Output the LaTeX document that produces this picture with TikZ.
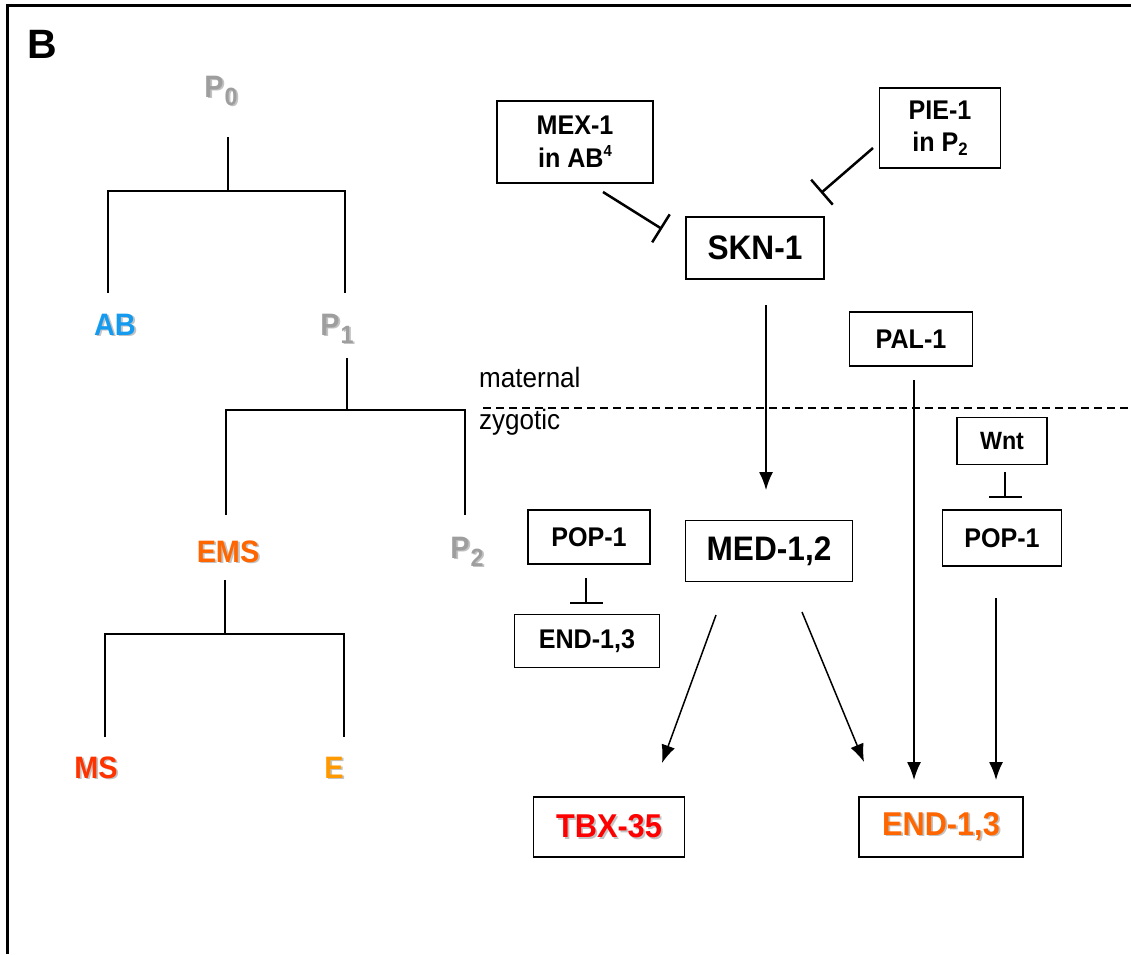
\documentclass[tikz,border=0pt]{standalone}
\usepackage{fontspec}
\setmainfont{Liberation Sans}
\newfontfamily\narrowsans[FakeStretch=0.93]{Liberation Sans}
\newfontfamily\boxfont[FakeStretch=0.93]{Liberation Sans}
\usetikzlibrary{arrows.meta}
\definecolor{pgray}{RGB}{158,158,158}
\definecolor{abblue}{RGB}{20,155,240}
\definecolor{emsor}{RGB}{255,102,0}
\definecolor{msred}{RGB}{255,51,0}
\definecolor{eor}{RGB}{255,153,0}
\definecolor{tbxred}{RGB}{255,0,0}
\definecolor{shad}{RGB}{195,195,195}
\newcommand\shd[2]{\makebox[0pt][l]{\kern1.8pt\raisebox{-1.8pt}{\textcolor{shad}{#2}}}\textcolor{#1}{#2}}
\newcommand\lowsub[1]{\kern1pt\raisebox{-8pt}{\fontsize{25}{25}\selectfont #1}}
\begin{document}
\begin{tikzpicture}[x=1pt,y=-1pt,
  box/.style={draw, line width=1.7pt, inner sep=0pt, align=center},
  cell/.style={inner sep=0pt, anchor=base, font=\fontsize{31}{31}\selectfont\boxfont\bfseries},
  tree/.style={line width=1.5pt},
  act/.style={line width=1.5pt, -{Latex[length=18pt,width=14pt]}},
  inh/.style={line width=2.5pt, -{Bar[width=33pt,line width=2.5pt]}},
  fs/.style={font=\fontsize{#1}{#1}\selectfont\boxfont\bfseries}
]
\useasboundingbox (0,0) rectangle (1131,954);
% frame
\draw[line width=3pt] (7,954) -- (7,5) -- (1131,5);
\node[inner sep=0pt, anchor=base west, font=\fontsize{41}{41}\selectfont\bfseries] (lbl) at (27,58) {B};

% lineage tree
\node[cell] (p0) at (221,97) {\shd{pgray}{P\lowsub{0}}};
\node[cell] (ab) at (115,335) {\shd{abblue}{AB}};
\node[cell] (p1) at (337,335) {\shd{pgray}{P\lowsub{1}}};
\node[cell] (ems) at (228,562) {\shd{emsor}{EMS}};
\node[cell] (p2) at (467,558) {\shd{pgray}{P\lowsub{2}}};
\node[cell] (ms) at (96,778) {\shd{msred}{MS}};
\node[cell] (e) at (334,778) {\shd{eor}{E}};

\coordinate (t0) at (228,137);
\coordinate (j0) at (228,191);
\draw[tree] (t0) -- (j0);
\draw[tree] (108,293) -- (108,191) -- (345,191) -- (345,293);
\coordinate (t1) at (347,358);
\coordinate (j1) at (347,410);
\draw[tree] (t1) -- (j1);
\draw[tree] (226,515) -- (226,410) -- (465,410) -- (465,515);
\coordinate (t2) at (225,580);
\coordinate (j2) at (225,634);
\draw[tree] (t2) -- (j2);
\draw[tree] (105,737) -- (105,634) -- (344,634) -- (344,737);

% maternal / zygotic
\node[inner sep=0pt, anchor=base west, font=\fontsize{28}{28}\selectfont\narrowsans] (mat) at (479,387) {maternal};
\node[inner sep=0pt, anchor=base west, font=\fontsize{28}{28}\selectfont\narrowsans] (zyg) at (479,429) {zygotic};
\draw[line width=1.3pt, dash pattern=on 8pt off 5pt] (483,408) -- (1131,408);

% regulatory boxes
\node[box, fs=27, minimum width=156pt, minimum height=82pt] (mex) at (575,142)
  {MEX-1\\[6pt]in AB\raisebox{11pt}{\fontsize{16}{16}\selectfont 4}};
\node[box, fs=27, minimum width=121pt, minimum height=80pt] (pie) at (940,128)
  {PIE-1\\[5pt]in P\raisebox{-4pt}{\fontsize{18}{18}\selectfont 2}};
\node[box, fs=34, minimum width=138pt, minimum height=62pt] (skn) at (755,248) {SKN-1};
\node[box, fs=27, minimum width=123pt, minimum height=54pt] (pal) at (911,339) {PAL-1};
\node[box, fs=25, minimum width=90pt, minimum height=47pt] (wnt) at (1002,441) {Wnt};
\node[box, fs=27, minimum width=119pt, minimum height=56pt] (popr) at (1002,538) {POP-1};
\node[box, fs=27, minimum width=122pt, minimum height=54pt] (popl) at (589,537) {POP-1};
\node[box, fs=27, minimum width=145pt, minimum height=53pt] (endl) at (587,641) {END-1,3};
\node[box, fs=34, minimum width=167pt, minimum height=61pt] (med) at (769,551) {MED-1,2};
\node[box, fs=33, minimum width=151pt, minimum height=60pt] (tbx) at (609,827) {\shd{tbxred}{TBX-35}};
\node[box, fs=33, minimum width=164pt, minimum height=60pt] (endr) at (941,827) {\shd{emsor}{END-1,3}};

% connectors
\coordinate (mexo) at (603,192);
\coordinate (mexi) at (662,229);
\draw[inh] (mexo) -- (mexi);
\coordinate (pieo) at (873,148);
\coordinate (piei) at (821,193);
\draw[inh] (pieo) -- (piei);
\coordinate (skno) at (766,305);
\coordinate (medi) at (766,490);
\draw[act] (skno) -- (medi);
\coordinate (palo) at (914,380);
\coordinate (endi1) at (914,780);
\draw[act] (palo) -- (endi1);
\coordinate (wnto) at (1005,472);
\coordinate (popi) at (1005,498);
\draw[inh] (wnto) -- (popi);
\coordinate (popro) at (996,598);
\coordinate (endi2) at (996,780);
\draw[act] (popro) -- (endi2);
\coordinate (poplo) at (586,578);
\coordinate (endli) at (586,604);
\draw[inh] (poplo) -- (endli);
\coordinate (medo1) at (716,615);
\coordinate (tbxi) at (662,763);
\draw[act] (medo1) -- (tbxi);
\coordinate (medo2) at (802,612);
\coordinate (endi3) at (864,762);
\draw[act] (medo2) -- (endi3);
\end{tikzpicture}
\end{document}
